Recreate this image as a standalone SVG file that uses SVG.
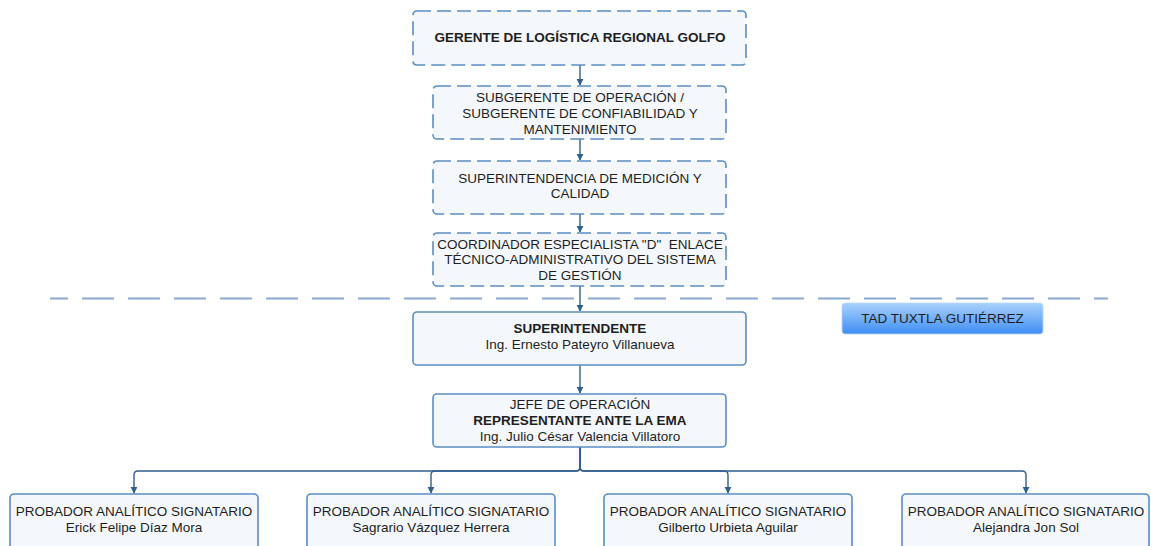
<svg xmlns="http://www.w3.org/2000/svg" width="1151" height="546" viewBox="0 0 1151 546">
  <defs>
    <marker id="arrow" viewBox="0 0 10 10" refX="9" refY="5" markerWidth="7" markerHeight="8" markerUnits="userSpaceOnUse" orient="auto">
      <path d="M0,0 L10,5 L0,10 z" fill="#2f5f8f"/>
    </marker>
    <linearGradient id="tadFill" x1="0" y1="0" x2="0" y2="1">
      <stop offset="0" stop-color="#a9d1fb"/>
      <stop offset="1" stop-color="#3d8ef3"/>
    </linearGradient>
    <style>
      .box { fill: #f4f8fd; stroke: #5a8dc2; stroke-width: 1.6; }
      .dashed { stroke-dasharray: 14 6; }
      .t { font-family: "Liberation Sans", Arial, sans-serif; font-size: 13.5px; fill: #1e1e1e; text-anchor: middle; dominant-baseline: central; }
      .b { font-weight: bold; }
      .conn { fill: none; stroke: #2f5f8f; stroke-width: 1.4; }
      .sep { stroke: #88a9cd; stroke-width: 2.2; stroke-dasharray: 32 14; }
    </style>
  </defs>

  <!-- separator between regional and local levels -->
  <line class="sep" x1="50" y1="298.5" x2="1108" y2="298.5" stroke-dashoffset="14"/>

  <!-- connectors -->
  <g id="connectors">
    <path class="conn" d="M580,65 V85" marker-end="url(#arrow)"/>
    <path class="conn" d="M580,139 V160" marker-end="url(#arrow)"/>
    <path class="conn" d="M580,214 V232" marker-end="url(#arrow)"/>
    <path class="conn" d="M580,286 V311" marker-end="url(#arrow)"/>
    <path class="conn" d="M580,365 V393" marker-end="url(#arrow)"/>
    <path class="conn" d="M580,447 V467 Q580,471 576,471 H138 Q134,471 134,475 V493" marker-end="url(#arrow)"/>
    <path class="conn" d="M580,447 V467 Q580,471 576,471 H435 Q431,471 431,475 V493" marker-end="url(#arrow)"/>
    <path class="conn" d="M580,447 V467 Q580,471 584,471 H724 Q728,471 728,475 V493" marker-end="url(#arrow)"/>
    <path class="conn" d="M580,447 V467 Q580,471 584,471 H1022 Q1026,471 1026,475 V493" marker-end="url(#arrow)"/>
  </g>

  <g id="gerente">
    <rect class="box dashed" x="413" y="11" width="333" height="54" rx="4"/>
    <text class="t b" x="580" y="37">GERENTE DE LOGÍSTICA REGIONAL GOLFO</text>
  </g>

  <g id="subgerente">
    <rect class="box dashed" x="433" y="86" width="293" height="53" rx="4"/>
    <text class="t" x="580" y="97">SUBGERENTE DE OPERACIÓN /</text>
    <text class="t" x="580" y="113">SUBGERENTE DE CONFIABILIDAD Y</text>
    <text class="t" x="580" y="129">MANTENIMIENTO</text>
  </g>

  <g id="superintendencia">
    <rect class="box dashed" x="433" y="161" width="293" height="53" rx="4"/>
    <text class="t" x="580" y="178">SUPERINTENDENCIA DE MEDICIÓN Y</text>
    <text class="t" x="580" y="193.5">CALIDAD</text>
  </g>

  <g id="coordinador">
    <rect class="box dashed" x="433" y="233" width="293" height="53" rx="4"/>
    <text class="t" x="580" y="244" xml:space="preserve">COORDINADOR ESPECIALISTA "D"  ENLACE</text>
    <text class="t" x="580" y="259.5">TÉCNICO-ADMINISTRATIVO DEL SISTEMA</text>
    <text class="t" x="580" y="275">DE GESTIÓN</text>
  </g>

  <g id="tad">
    <rect x="842" y="303" width="201" height="31" rx="3" fill="url(#tadFill)" stroke="#b9d8fb" stroke-width="0.8"/>
    <text class="t" x="942.5" y="318" fill="#1c2633">TAD TUXTLA GUTIÉRREZ</text>
  </g>

  <g id="superintendente">
    <rect class="box" x="413" y="312" width="333" height="53" rx="4"/>
    <text class="t b" x="580" y="328">SUPERINTENDENTE</text>
    <text class="t" x="580" y="344">Ing. Ernesto Pateyro Villanueva</text>
  </g>

  <g id="jefe-operacion">
    <rect class="box" x="433" y="394" width="293" height="53" rx="4"/>
    <text class="t" x="580" y="404">JEFE DE OPERACIÓN</text>
    <text class="t b" x="580" y="420">REPRESENTANTE ANTE LA EMA</text>
    <text class="t" x="580" y="436">Ing. Julio César Valencia Villatoro</text>
  </g>

  <g id="probador-1">
    <rect class="box" x="10" y="494" width="248" height="70" rx="4"/>
    <text class="t" x="134" y="511.5">PROBADOR ANALÍTICO SIGNATARIO</text>
    <text class="t" x="134" y="527">Erick Felipe Díaz Mora</text>
  </g>

  <g id="probador-2">
    <rect class="box" x="307" y="494" width="248" height="70" rx="4"/>
    <text class="t" x="431" y="511.5">PROBADOR ANALÍTICO SIGNATARIO</text>
    <text class="t" x="431" y="527">Sagrario Vázquez Herrera</text>
  </g>

  <g id="probador-3">
    <rect class="box" x="604" y="494" width="248" height="70" rx="4"/>
    <text class="t" x="728" y="511.5">PROBADOR ANALÍTICO SIGNATARIO</text>
    <text class="t" x="728" y="527">Gilberto Urbieta Aguilar</text>
  </g>

  <g id="probador-4">
    <rect class="box" x="902" y="494" width="247" height="70" rx="4"/>
    <text class="t" x="1026" y="511.5">PROBADOR ANALÍTICO SIGNATARIO</text>
    <text class="t" x="1026" y="527">Alejandra Jon Sol</text>
  </g>
</svg>
